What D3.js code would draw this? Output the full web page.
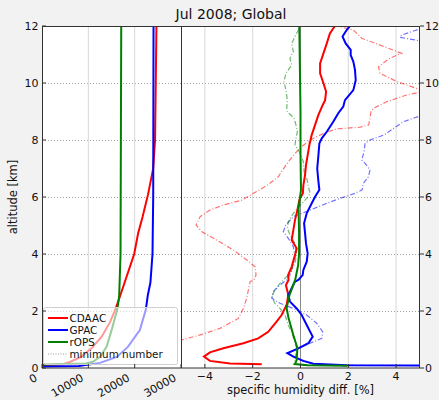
<!DOCTYPE html>
<html>
<head>
<meta charset="utf-8">
<script src="https://cdn.jsdelivr.net/npm/d3@7"></script>
<style>
  html, body { margin: 0; padding: 0; background: #f2f2f2; }
  svg { display: block; font-family: "DejaVu Sans", sans-serif; }
</style>
</head>
<body>
<svg id="chart" width="439" height="400"></svg>
<script>
// ---- profile counts (left panel): [altitude km, number of profiles]
const countCDAAC = [[0,0],[0.1,300],[0.13,4500],[0.21,6000],[0.4,8550],[0.74,10990],[1.1,12870],[1.6,14650],[2.0,15700],[2.5,16800],[3.2,18250],[4.0,19900],[4.74,20760],[5.3,21700],[6.1,22900],[7.0,24000],[8.0,24400],[12,24700]];
const countGPAC  = [[0,0],[0.05,200],[0.07,8000],[0.18,12500],[0.39,16160],[0.74,18530],[1.33,21120],[2.04,22400],[2.56,22845],[3.0,23400],[4.0,23850],[6.0,24000],[12,24070]];
const countROPS  = [[0,0],[0.12,300],[0.16,9500],[0.22,11000],[0.39,12500],[0.74,13940],[1.33,15020],[2.04,16230],[2.5,16650],[4.0,16950],[12,17100]];

// ---- specific humidity differences (right panel): [altitude km, diff %]
const diffCDAAC = [[0.13,-1.62],[0.16,-2.95],[0.25,-3.79],[0.4,-4.04],[0.55,-3.79],[0.69,-3.23],[0.87,-2.39],[1.04,-1.77],[1.27,-1.35],[1.63,-1.0],[1.86,-0.79],[2.21,-0.58],[2.56,-0.51],[2.91,-0.61],[3.09,-0.5],[3.26,-0.52],[3.55,-0.37],[3.96,-0.23],[4.2,-0.16],[4.49,-0.37],[4.84,-0.3],[5.19,-0.23],[5.54,-0.13],[5.89,-0.05],[6.13,0.1],[6.42,0.12],[6.77,0.19],[7.12,0.23],[7.47,0.3],[7.82,0.37],[8.18,0.47],[8.53,0.61],[8.88,0.75],[9.23,0.93],[9.4,1.03],[9.7,1.07],[9.99,0.96],[10.34,0.82],[10.69,0.82],[11.04,0.96],[11.39,1.1],[11.74,1.23],[12,1.44]];
const diffGPAC  = [[0.08,6],[0.1,1.93],[0.15,0.54],[0.25,0.12],[0.4,-0.3],[0.52,-0.55],[0.69,-0.09],[0.87,0.33],[1.1,0.51],[1.51,0.26],[1.86,0.05],[2.09,-0.16],[2.33,-0.44],[2.56,-0.51],[2.8,-0.37],[3.03,-0.23],[3.09,-0.09],[3.26,0.09],[3.44,0.12],[3.73,0.26],[4.02,0.3],[4.37,0.23],[4.73,0.19],[5.08,0.15],[5.43,0.26],[5.78,0.47],[6.01,0.61],[6.25,0.79],[6.54,0.75],[7.0,0.7],[7.47,0.75],[7.88,0.79],[8.06,0.89],[8.29,1.1],[8.64,1.37],[8.94,1.58],[9.17,1.79],[9.4,1.86],[9.75,2.21],[10.1,2.31],[10.46,2.28],[10.75,2.21],[10.98,2.1],[11.16,2.1],[11.39,1.89],[11.63,1.76],[11.86,1.93],[12,2.07]];
const diffROPS  = [[0.08,1.95],[0.1,0.3],[0.14,-0.23],[0.28,-0.16],[0.7,-0.13],[1.16,-0.3],[1.75,-0.5],[2.1,-0.58],[2.56,-0.46],[3.1,-0.22],[3.6,-0.1],[4.0,-0.06],[4.74,-0.06],[5.6,-0.08],[6.25,0.02],[7.5,0.0],[9.0,0.0],[12,-0.05]];

// secondary (dash-dot) profiles; null marks a gap where the curve leaves the axes
const diffCDAAC2 = [[0.9,-5.5],[0.98,-5.0],[1.16,-4.2],[1.39,-3.37],[1.74,-2.6],[2.09,-2.39],[2.45,-2.25],[2.74,-2.18],[3.03,-2.11],[3.09,-1.95],[3.26,-1.86],[3.55,-1.9],[3.79,-2.25],[4.14,-2.81],[4.49,-3.51],[4.78,-4.13],[5.02,-4.37],[5.31,-4.2],[5.54,-3.79],[5.72,-3.23],[5.89,-2.46],[6.13,-1.97],[6.25,-1.7],[6.48,-1.28],[6.71,-0.93],[6.89,-0.79],[7.24,-0.51],[7.59,-0.16],[7.82,0.12],[8.06,0.54],[8.23,0.96],[8.39,1.51],[8.45,2.5],[8.53,2.85],[8.76,2.91],[9.0,2.95],[9.11,3.05],[9.34,3.6],[9.58,4.44],[9.7,5.1],[9.81,4.86],[10.05,4.03],[10.34,3.33],[10.57,3.26],[10.87,3.74],[11.04,4.23],[11.33,3.33],[11.57,2.56],[11.86,2.21],[12,1.51]];
const diffGPAC2  = [[0.08,6],[0.1,1.9],[0.15,0.5],[0.25,0.1],[0.4,-0.3],[0.52,-0.5],[0.69,-0.09],[0.87,0.4],[1.04,0.89],[1.27,0.93],[1.57,0.68],[1.86,0.26],[2.09,-0.3],[2.27,-0.86],[2.45,-1.2],[2.68,-1.14],[2.91,-0.86],[3.09,-0.58],[3.26,-0.44],[3.44,-0.37],[3.91,-0.23],[4.26,-0.3],[4.55,-0.51],[4.78,-0.72],[5.02,-0.61],[5.31,-0.3],[5.54,0.4],[5.78,1.1],[5.95,1.65],[6.13,2.28],[6.25,2.58],[6.48,2.63],[6.71,2.84],[6.95,2.91],[7.18,2.7],[7.3,2.56],[7.59,2.66],[7.88,2.7],[8.0,2.91],[8.18,3.5],[8.41,3.9],[8.64,4.3],[8.82,4.93],[8.9,5.2],[null,null],[11.45,5.2],[11.5,4.86],[11.6,4.16],[11.68,4.23],[11.88,4.93],[11.95,5.2]];
const diffROPS2  = [[0.08,1.95],[0.1,0.3],[0.13,-0.3],[0.28,-0.23],[0.69,-0.16],[1.16,-0.33],[1.51,-0.51],[1.86,-0.65],[2.09,-0.86],[2.27,-1.07],[2.5,-1.2],[2.74,-1.07],[2.97,-0.86],[3.26,-0.51],[3.32,-0.44],[3.67,-0.23],[4.02,-0.16],[4.37,-0.23],[4.67,-0.44],[4.9,-0.55],[5.13,-0.51],[5.43,-0.3],[5.72,0.0],[5.95,0.26],[6.13,0.4],[6.36,0.33],[6.66,0.26],[6.89,0.15],[7.24,0.12],[7.59,-0.05],[7.82,-0.23],[8.06,-0.19],[8.29,-0.13],[8.53,-0.19],[8.76,-0.27],[8.99,-0.55],[9.05,-0.58],[9.4,-0.55],[9.75,-0.61],[10.05,-0.69],[10.34,-0.61],[10.63,-0.37],[10.87,-0.44],[11.1,-0.3],[11.39,-0.37],[11.63,-0.23],[11.86,-0.09],[12,0.0]];

// ---- labels and ticks
const titleText = "Jul 2008; Global";
const yLabel = "altitude [km]";
const xLabelRight = "specific humidity diff. [%]";
const altTicks = [0, 2, 4, 6, 8, 10, 12];
const countTicks = [0, 10000, 20000, 30000];
const diffTicks = [-4, -2, 0, 2, 4];
const seriesNames = ["CDAAC", "GPAC", "rOPS"];
const seriesColors = ["#ff0000", "#0000ff", "#008000"];
const minLegendLabel = "minimum number";

const svg = d3.select("#chart");
const plotTop = 26, plotBottom = 368;
const leftX0 = 42, leftX1 = 181, rightX0 = 181, rightX1 = 420;

const y = d3.scaleLinear().domain([0, 12]).range([plotBottom, plotTop]);
const xCount = d3.scaleLinear().domain([0, 30000]).range([leftX0, leftX1]);
const xDiff = d3.scaleLinear().domain([-5, 5]).range([rightX0, rightX1]);

const defs = svg.append("defs");
defs.append("clipPath").attr("id", "clipL").append("rect")
  .attr("x", leftX0).attr("y", plotTop).attr("width", leftX1 - leftX0).attr("height", plotBottom - plotTop);
defs.append("clipPath").attr("id", "clipR").append("rect")
  .attr("x", rightX0).attr("y", plotTop).attr("width", rightX1 - rightX0).attr("height", plotBottom - plotTop);

// plot backgrounds
svg.append("rect").attr("x", leftX0).attr("y", plotTop).attr("width", rightX1 - leftX0).attr("height", plotBottom - plotTop).attr("fill", "#fff");

// grids
const grid = svg.append("g");
[[leftX0, leftX1], [rightX0, rightX1]].forEach(([a, b]) => {
  grid.selectAll(null).data(altTicks.filter(t => t > 0 && t < 12)).enter().append("line")
    .attr("x1", a).attr("x2", b).attr("y1", d => y(d) + 0.5).attr("y2", d => y(d) + 0.5)
    .attr("stroke", "#a0a0a0").attr("stroke-width", 1).attr("stroke-dasharray", "1,2");
});
grid.selectAll(null).data(countTicks.filter(t => t > 0 && t < 30000)).enter().append("line")
  .attr("x1", d => xCount(d)).attr("x2", d => xCount(d)).attr("y1", plotTop).attr("y2", plotBottom)
  .attr("stroke", "#d8d8d8").attr("stroke-width", 1);
grid.selectAll(null).data(diffTicks).enter().append("line")
  .attr("x1", d => xDiff(d)).attr("x2", d => xDiff(d)).attr("y1", plotTop).attr("y2", plotBottom)
  .attr("stroke", d => d === 0 ? "#8a8a8a" : "#d8d8d8").attr("stroke-width", 1);

// left panel: number of profiles
const countLine = d3.line().x(d => xCount(d[1])).y(d => y(d[0]));
const gL = svg.append("g").attr("clip-path", "url(#clipL)");
[countCDAAC, countGPAC, countROPS].forEach((s, i) => {
  gL.append("path").datum(s).attr("d", countLine)
    .attr("fill", "none").attr("stroke", seriesColors[i]).attr("stroke-width", 2);
});

// right panel: humidity differences
const diffLine = d3.line().defined(d => d[0] !== null).x(d => xDiff(d[1])).y(d => y(d[0]));
const gR = svg.append("g").attr("clip-path", "url(#clipR)");
[diffCDAAC2, diffGPAC2, diffROPS2].forEach((s, i) => {
  gR.append("path").datum(s).attr("d", diffLine)
    .attr("fill", "none").attr("stroke", seriesColors[i]).attr("stroke-width", 1.2)
    .attr("stroke-opacity", 0.55).attr("stroke-dasharray", "5,2,1,2");
});
[diffCDAAC, diffGPAC, diffROPS].forEach((s, i) => {
  gR.append("path").datum(s).attr("d", diffLine)
    .attr("fill", "none").attr("stroke", seriesColors[i]).attr("stroke-width", 2);
});

// legend (semi-transparent frame)
const lg = svg.append("g");
lg.append("rect").attr("x", 43.5).attr("y", 307.5).attr("width", 134).attr("height", 57)
  .attr("rx", 2).attr("fill", "#fff").attr("fill-opacity", 0.6).attr("stroke", "#d0d0d0");
const legendRows = seriesNames.concat([minLegendLabel]);
legendRows.forEach((name, i) => {
  const yy = 318 + i * 12;
  const ln = lg.append("line").attr("x1", 48).attr("x2", 68).attr("y1", yy).attr("y2", yy);
  if (i < 3) ln.attr("stroke", seriesColors[i]).attr("stroke-width", 2);
  else ln.attr("stroke", "#999").attr("stroke-width", 1).attr("stroke-dasharray", "1,1.5");
  lg.append("text").attr("x", 69.5).attr("y", yy).attr("dy", "0.36em")
    .attr("font-size", "10.4px").attr("fill", "#111").text(name);
});

// spines
const sp = svg.append("g").attr("fill", "none").attr("stroke", "#333").attr("stroke-width", 1);
sp.append("rect").attr("x", leftX0 + 0.5).attr("y", plotTop + 0.5).attr("width", rightX1 - leftX0 - 1).attr("height", plotBottom - plotTop - 0.5);
sp.append("line").attr("x1", rightX0 + 0.5).attr("x2", rightX0 + 0.5).attr("y1", plotTop).attr("y2", plotBottom);

// left y axis (inward ticks) and right y axis (outward ticks)
const ax = svg.append("g").attr("font-size", "11px").attr("fill", "#111");
altTicks.forEach(t => {
  ax.append("line").attr("x1", leftX0).attr("x2", leftX0 + 4).attr("y1", y(t)).attr("y2", y(t)).attr("stroke", "#333");
  ax.append("text").attr("x", 38.5).attr("y", y(t)).attr("dy", "0.36em").attr("text-anchor", "end").text(t);
  ax.append("line").attr("x1", rightX1).attr("x2", rightX1 + 4).attr("y1", y(t)).attr("y2", y(t)).attr("stroke", "#333");
  ax.append("text").attr("x", 425).attr("y", y(t)).attr("dy", "0.36em").attr("text-anchor", "start").text(t);
});

// left x axis, labels rotated 30 degrees
countTicks.forEach(t => {
  ax.append("line").attr("x1", xCount(t)).attr("x2", xCount(t)).attr("y1", plotBottom).attr("y2", plotBottom - 4).attr("stroke", "#333");
  ax.append("text").attr("transform", `translate(${xCount(t) - 4},${plotBottom + 12}) rotate(-30)`)
    .attr("text-anchor", "end").text(d3.format("d")(t));
});

// right x axis
diffTicks.forEach(t => {
  ax.append("line").attr("x1", xDiff(t)).attr("x2", xDiff(t)).attr("y1", plotBottom).attr("y2", plotBottom - 4).attr("stroke", "#333");
  ax.append("text").attr("x", xDiff(t)).attr("y", 380).attr("text-anchor", "middle")
    .text(t < 0 ? "\u2212" + Math.abs(t) : t);
});

// titles
svg.append("text").attr("x", 231).attr("y", 19).attr("text-anchor", "middle")
  .attr("font-size", "14px").attr("fill", "#111").text(titleText);
svg.append("text").attr("transform", `translate(17,${(plotTop + plotBottom) / 2}) rotate(-90)`)
  .attr("text-anchor", "middle").attr("font-size", "11.5px").attr("fill", "#111").text(yLabel);
svg.append("text").attr("x", (rightX0 + rightX1) / 2).attr("y", 394).attr("text-anchor", "middle")
  .attr("font-size", "11.5px").attr("fill", "#111").text(xLabelRight);
</script>
</body>
</html>
